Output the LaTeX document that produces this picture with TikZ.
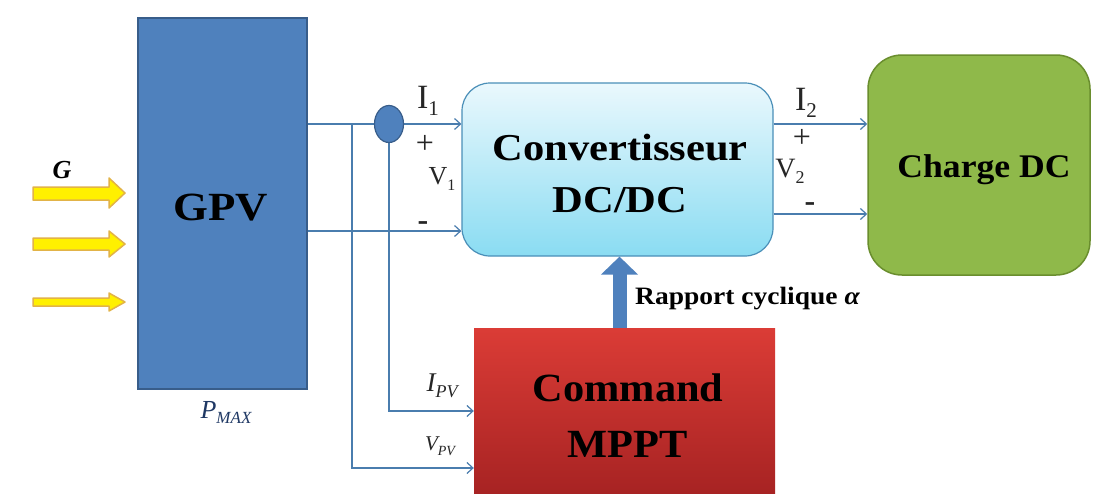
\documentclass[tikz,border=0pt]{standalone}
\usepackage{graphicx}
\usepackage{fontspec}
\setmainfont{Liberation Serif}
\usetikzlibrary{arrows.meta,calc,shapes.geometric}
\definecolor{gpvblue}{HTML}{4F81BD}
\definecolor{gpvedge}{HTML}{385D8A}
\definecolor{linec}{HTML}{4A7DAE}
\definecolor{convtop}{HTML}{EAF8FD}
\definecolor{convbot}{HTML}{8ADCF2}
\definecolor{convedge}{HTML}{4A8FB8}
\definecolor{mppttop}{HTML}{DB3C36}
\definecolor{mpptbot}{HTML}{A52222}
\definecolor{loadgreen}{HTML}{8FB94A}
\definecolor{loadedge}{HTML}{6A8E2E}
\definecolor{yel}{HTML}{FFF000}
\definecolor{yeledge}{HTML}{E2B347}
\definecolor{pmax}{HTML}{1F3864}
\newcommand{\hstretch}[2]{\scalebox{#1}[1]{#2}}
\tikzset{
  wire/.style={draw=linec, line width=1.3pt},
  wirearr/.style={wire, -{Straight Barb[length=6pt,width=11pt,line width=1.2pt]}},
  sunarrow/.style={fill=yel, draw=yeledge, line width=1.5pt, line join=round},
  bigtxt/.style={font=\bfseries\fontsize{38}{46}\selectfont, text=black, anchor=base, inner sep=0pt},
  lbl/.style={font=\fontsize{26}{30}\selectfont, text=black!85, anchor=base, inner sep=0pt},
}
\begin{document}
\begin{tikzpicture}[x=1pt,y=-1pt]
\useasboundingbox[fill=white] (0,0) rectangle (1093,493);

% boxes
\node[draw=gpvedge, line width=1.5pt, fill=gpvblue, minimum width=169pt, minimum height=371pt, inner sep=0pt] (gpv) at (222.5,203.5) {};
\node[draw=convedge, line width=1.2pt, top color=convtop, bottom color=convbot, rounded corners=28pt, minimum width=311pt, minimum height=173pt, inner sep=0pt] (conv) at (617.5,169.5) {};
\node[top color=mppttop, bottom color=mpptbot, minimum width=301pt, minimum height=172pt, inner sep=0pt] (mppt) at (624.5,414) {};
\node[draw=loadedge, line width=1.5pt, fill=loadgreen, rounded corners=34pt, minimum width=222pt, minimum height=220pt, inner sep=0pt] (load) at (979,165) {};

% texts in boxes
\node[bigtxt, font=\bfseries\fontsize{40}{46}\selectfont] (tgpv) at (221,220) {\hstretch{1.12}{GPV}};
\node[bigtxt] (tconv1) at (620,160) {\hstretch{1.12}{Convertisseur}};
\node[bigtxt] (tconv2) at (620,212) {\hstretch{1.12}{DC/DC}};
\node[bigtxt, font=\bfseries\fontsize{40}{46}\selectfont] (tm1) at (628,401) {\hstretch{1.06}{Command}};
\node[bigtxt, font=\bfseries\fontsize{40}{46}\selectfont] (tm2) at (628,457) {\hstretch{1.06}{MPPT}};
\node[bigtxt, font=\bfseries\fontsize{33}{40}\selectfont] (tload) at (984,177) {\hstretch{1.08}{Charge DC}};

% sun arrows
\path[sunarrow] (33,187) -- (109,187) -- (109,178) -- (125,193) -- (109,208) -- (109,200) -- (33,200) -- cycle;
\path[sunarrow] (33,238) -- (109,238) -- (109,231) -- (125,244) -- (109,257) -- (109,250) -- (33,250) -- cycle;
\path[sunarrow] (33,298) -- (109,298) -- (109,293) -- (125,302) -- (109,311) -- (109,306) -- (33,306) -- cycle;
\node[font=\bfseries\itshape\fontsize{26}{30}\selectfont, anchor=base] (g) at (62,178) {G};
\node[font=\itshape\fontsize{26}{30}\selectfont, text=pmax, anchor=base] (pm) at (226,418) {P\raisebox{-5pt}{\fontsize{17}{17}\selectfont MAX}};

% junctions
\coordinate (j1) at (389,124);
\coordinate (j0) at (352,124);

% wires
\draw[wirearr] (gpv.east |- j1) -- (conv.west |- j1);
\draw[wirearr] (gpv.east |- 0,231) -- (conv.west |- 0,231);
\draw[wirearr] (j0) |- (mppt.west |- 0,468);
\draw[wirearr] (j1) |- (mppt.west |- 0,411);
\node[draw=gpvedge, line width=1.2pt, fill=gpvblue, ellipse, minimum width=29pt, minimum height=37pt, inner sep=0pt] (sens) at (j1) {};

\draw[wirearr] (conv.east |- 0,124) -- (load.west |- 0,124);
\draw[wirearr] (conv.east |- 0,214) -- (load.west |- 0,214);

% duty-cycle arrow
\draw[draw=gpvblue, line width=14pt, -{Triangle[length=18pt,width=36pt]}] (mppt.north -| 619.5,0) -- (conv.south -| 619.5,0);
\node[font=\bfseries\fontsize{25}{30}\selectfont, anchor=base west, inner sep=0pt] (rc) at (635,304) {\hstretch{1.1}{Rapport cyclique \textit{α}}};

% electrical labels
\node[lbl, font=\fontsize{34}{36}\selectfont] (i1) at (428,108) {I\raisebox{-7pt}{\fontsize{21}{21}\selectfont 1}};
\node[lbl, font=\fontsize{32}{34}\selectfont] (p1) at (425,153) {+};
\node[lbl, font=\fontsize{26}{30}\selectfont] (v1) at (442,184) {V\raisebox{-6pt}{\fontsize{16}{16}\selectfont 1}};
\node[lbl, font=\bfseries\fontsize{32}{34}\selectfont] (m1) at (423,230) {-};
\node[lbl, font=\fontsize{34}{36}\selectfont] (i2) at (806,110) {I\raisebox{-7pt}{\fontsize{21}{21}\selectfont 2}};
\node[lbl, font=\fontsize{32}{34}\selectfont] (p2) at (802,147) {+};
\node[lbl, font=\fontsize{28}{30}\selectfont] (v2) at (790,177) {V\raisebox{-6pt}{\fontsize{18}{18}\selectfont 2}};
\node[lbl, font=\bfseries\fontsize{32}{34}\selectfont] (m2) at (810,211) {-};
\node[lbl, font=\itshape\fontsize{27}{30}\selectfont] (ipv) at (442,391) {I\raisebox{-6pt}{\fontsize{18}{18}\selectfont PV}};
\node[lbl, font=\itshape\fontsize{21}{24}\selectfont] (vpv) at (440,450) {V\raisebox{-5pt}{\fontsize{14}{14}\selectfont PV}};
\end{tikzpicture}
\end{document}
